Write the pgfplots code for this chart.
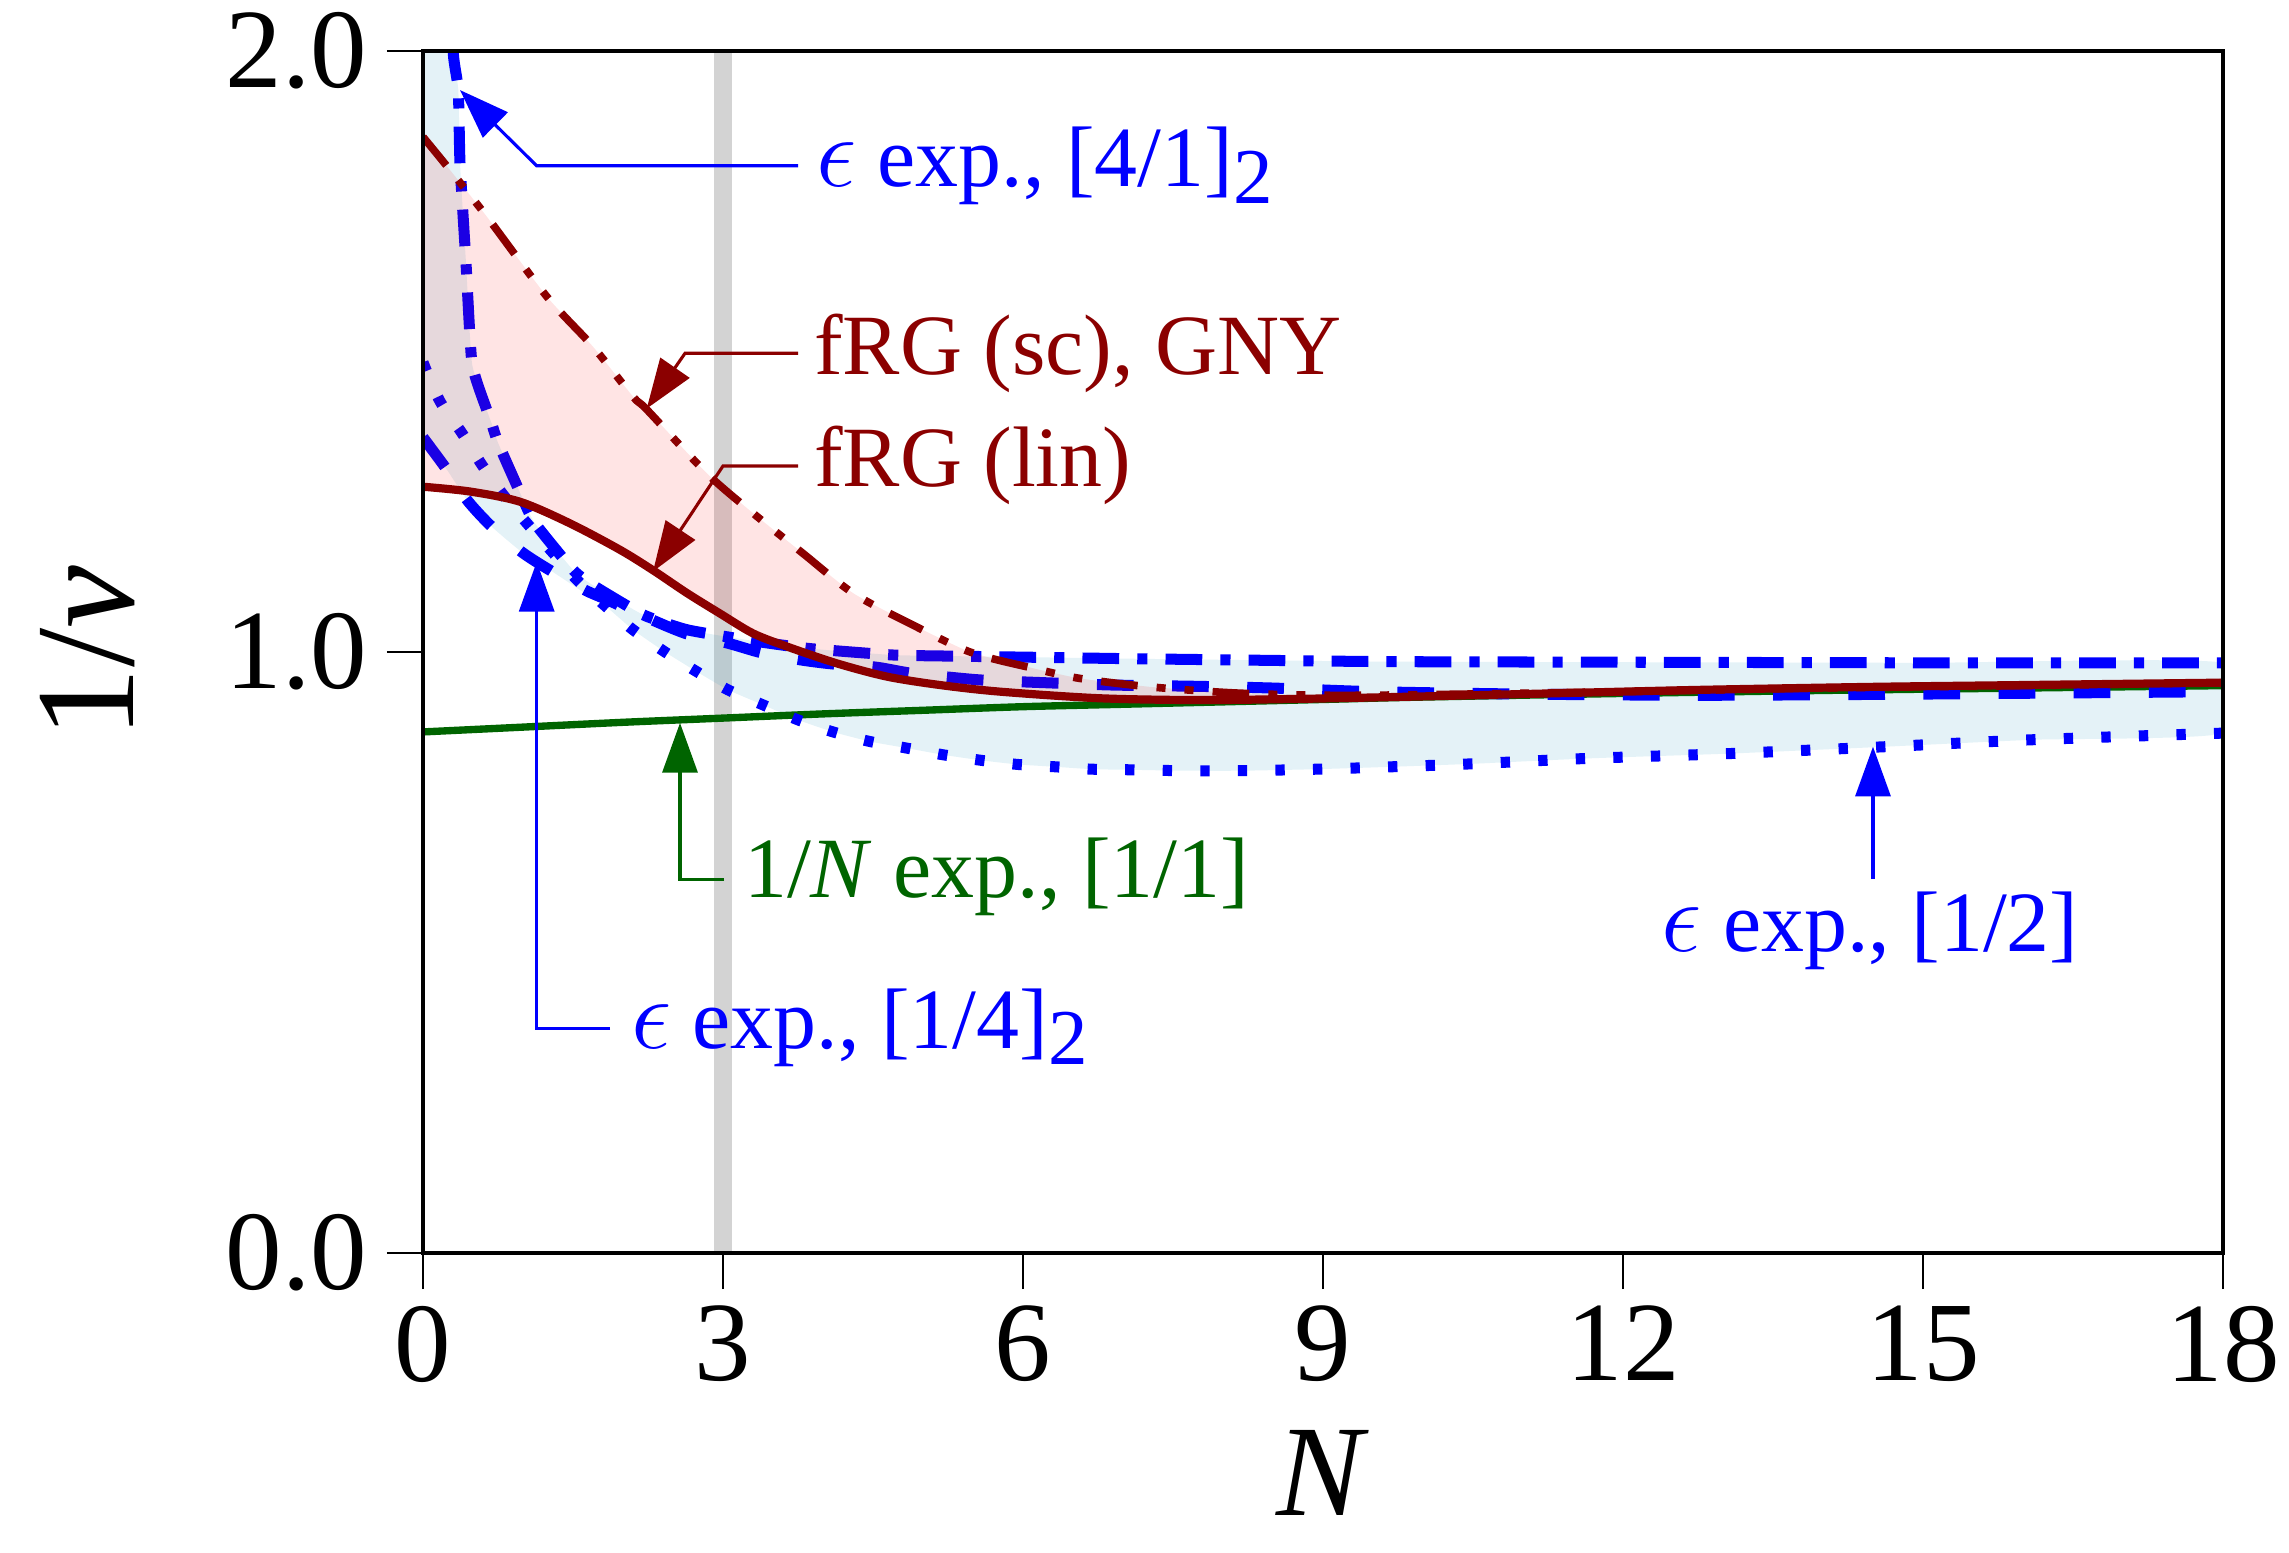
\documentclass[border=0pt]{standalone}
\usepackage{pgfplots}
\pgfplotsset{compat=1.18}
\usepackage{pgfplotstable}
\usepackage{fontspec}
\setmainfont{Liberation Serif}
\usetikzlibrary{arrows.meta}

\definecolor{frgred}{RGB}{139,0,0}
\definecolor{epsblue}{RGB}{0,0,255}
\definecolor{largeN}{RGB}{0,100,0}
\definecolor{bandgray}{RGB}{211,211,211}
\definecolor{epsfill}{RGB}{30,147,188}

\newcommand\annfont{\fontsize{15.2}{18}\selectfont}
\newcommand\sub[1]{\raisebox{-3pt}{\fontsize{14}{14}\selectfont #1}}
\newcommand\eps{\scalebox{1.25}{$\epsilon$}}

% fRG, linear regulator
\pgfplotstableread{
N v
0 1.275
0.47 1.267
0.97 1.250
1.47 1.214
1.97 1.170
2.30 1.136
2.64 1.098
2.97 1.064
3.30 1.031
3.64 1.009
4.14 0.981
4.64 0.959
5.17 0.945
5.77 0.934
6.77 0.923
7.77 0.920
8.77 0.922
9.97 0.926
11.5 0.932
12.77 0.937
14.5 0.942
16 0.945
18 0.949
}\frglin

% fRG, sharp cutoff (GNY)
\pgfplotstableread{
N v
0 1.857
0.27 1.802
0.64 1.724
1.24 1.591
1.70 1.508
2.10 1.425
2.24 1.403
2.84 1.297
3.30 1.231
3.80 1.164
4.30 1.098
4.85 1.049
5.47 1.000
6.10 0.973
6.57 0.956
7.27 0.942
8.1 0.932
9 0.928
10 0.929
12 0.934
14 0.940
16 0.944
18 0.949
}\frgsc

% 1/N expansion, [1/1]
\pgfplotstableread{
N v
0 0.867
1 0.875
2 0.883
3 0.890
4 0.897
5 0.903
6 0.909
7 0.913
8 0.917
9 0.921
10 0.925
12 0.931
14 0.936
16 0.940
18 0.944
}\largeNexp

% epsilon expansion, [4/1]_2
\pgfplotstableread{
N v
0.285 2.15
0.303 1.996
0.353 1.935
0.37 1.813
0.43 1.647
0.49 1.480
0.637 1.403
0.687 1.380
0.753 1.347
1.003 1.253
1.12 1.214
1.503 1.136
1.70 1.111
2.20 1.062
2.64 1.037
3.24 1.020
3.85 1.006
4.70 0.995
5.35 0.993
6.2 0.991
7.0 0.989
8.0 0.987
9.6 0.984
12 0.983
15 0.982
18 0.982
}\epsfourone

% epsilon expansion, [1/4]_2
\pgfplotstableread{
N v
0 1.357
0.24 1.303
0.44 1.253
0.69 1.208
0.99 1.166
1.3 1.133
1.62 1.103
1.84 1.087
2.2 1.060
2.64 1.030
3.04 1.015
3.4 0.998
3.77 0.987
4.1 0.980
4.52 0.975
4.87 0.965
5.27 0.958
5.62 0.953
6.2 0.949
6.9 0.945
7.7 0.943
8.5 0.940
9.5 0.934
11 0.930
12.8 0.928
15 0.930
18 0.934
}\epsonefour

% epsilon expansion, [1/2]
\pgfplotstableread{
N v
0 1.482
0.17 1.417
0.39 1.364
0.59 1.311
0.8 1.262
1.04 1.214
1.3 1.165
1.54 1.120
1.82 1.077
2.10 1.037
2.42 1.000
2.74 0.967
3.05 0.937
3.40 0.912
3.75 0.887
4.10 0.867
4.47 0.851
4.84 0.840
5.20 0.829
5.57 0.820
5.94 0.813
6.32 0.809
6.69 0.805
7.07 0.804
7.6 0.8025
8.2 0.8025
8.94 0.805
9.69 0.809
10.5 0.814
11.66 0.823
13.07 0.831
14.57 0.842
16.1 0.854
18 0.865
}\epsonetwo

\begin{document}
\begin{tikzpicture}
\begin{axis}[
  name=ax,
  scale only axis,
  width=318.58pt, height=212.74pt,
  xmin=0, xmax=18, ymin=0, ymax=2,
  xtick={0,3,6,9,12,15,18},
  xticklabels={0,3,6,9,12,15,18},
  ytick={0,1,2},
  yticklabels={0.0,1.0,2.0},
  xtick pos=bottom, ytick pos=left,
  tick align=outside,
  major tick length=6.4pt,
  minor tick num=0,
  tick style={black, line width=0.4pt},
  axis line style={black, line width=0.65pt},
  tick label style={font=\fontsize{20}{20}\selectfont},
  xticklabel style={inner sep=0pt, anchor=north, yshift=-2.8pt},
  yticklabel style={inner sep=0pt, anchor=east, xshift=-3.3pt},
  xlabel={\textit{N}},
  ylabel={1/\textit{ν}},
  every axis x label/.style={at={(axis description cs:0.5,-0.183)}, anchor=center,
    inner sep=0pt, font=\fontsize{23}{23}\selectfont},
  every axis y label/.style={at={(axis description cs:-0.1861,0.5)}, anchor=center, rotate=90,
    inner sep=0pt, font=\fontsize{25}{25}\selectfont},
  clip mode=individual,
  axis on top,
]

% marks the physical case N = 3
\addplot[bandgray, line width=3.3pt] coordinates {(3,0) (3,2)};

% envelope of the epsilon-expansion approximants
\addplot[draw=none, fill=epsfill, fill opacity=0.12, smooth, tension=0.3] coordinates {
 (0,2.1) (0.29,2.1) (0.303,1.996) (0.353,1.935) (0.37,1.813) (0.43,1.647)
 (0.49,1.48) (0.637,1.403) (0.687,1.38) (0.753,1.347) (1.003,1.253)
 (1.12,1.214) (1.503,1.136) (1.70,1.111) (2.20,1.062) (2.64,1.037)
 (3.24,1.020) (3.85,1.006) (4.70,0.995) (5.35,0.993) (6.2,0.991)
 (7.0,0.989) (8.0,0.987) (9.6,0.984) (12,0.983) (15,0.982) (18,0.982)
 (18,0.865) (16.1,0.854) (14.57,0.842) (13.07,0.831) (11.66,0.823)
 (10.5,0.814) (9.69,0.809) (8.94,0.805) (8.2,0.8025) (7.6,0.8025)
 (7.07,0.804) (6.69,0.805) (6.32,0.809) (5.94,0.813) (5.57,0.820)
 (5.20,0.829) (4.84,0.840) (4.47,0.851) (4.10,0.867) (3.75,0.887)
 (3.40,0.912) (3.05,0.937) (2.74,0.967) (2.42,1.0) (2.10,1.037)
 (1.82,1.077) (1.6,1.10) (1.3,1.133) (0.99,1.166) (0.69,1.208)
 (0.44,1.253) (0.24,1.303) (0,1.357)
} -- cycle;

% 1/N expansion
\addplot[largeN, line width=1.3pt, smooth] table[x=N, y=v] {\largeNexp};

% epsilon expansion
\addplot[epsblue, line width=1.95pt, smooth, dash pattern=on 1.65pt off 5pt] table[x=N, y=v] {\epsonetwo};
\addplot[epsblue, line width=1.95pt, smooth, dash pattern=on 6.5pt off 6.8pt] table[x=N, y=v] {\epsonefour};
\addplot[epsblue, line width=1.95pt, smooth, tension=0.3, dash pattern=on 6.5pt off 3.2pt on 1.8pt off 3.2pt] table[x=N, y=v] {\epsfourone};

% band between the two fRG results
\addplot[draw=none, fill=red, fill opacity=0.105, smooth, tension=0.3] coordinates {
 (0,1.857) (0.27,1.802) (0.64,1.724) (1.24,1.591) (1.70,1.508) (2.10,1.425)
 (2.24,1.403) (2.84,1.297) (3.30,1.231) (3.80,1.164) (4.30,1.098)
 (4.85,1.049) (5.47,1.000) (6.10,0.973) (6.57,0.956) (7.27,0.942)
 (8.1,0.932) (9,0.928) (10,0.929) (12,0.934) (14,0.940) (16,0.944) (18,0.949)
 (18,0.949) (16,0.945) (14.5,0.942) (12.77,0.937) (11.5,0.932) (9.97,0.926)
 (8.77,0.922) (7.77,0.920) (6.77,0.923) (5.77,0.934) (5.17,0.945)
 (4.64,0.959) (4.14,0.981) (3.64,1.009) (3.30,1.031) (2.97,1.064)
 (2.64,1.098) (2.30,1.136) (1.97,1.170) (1.47,1.214) (0.97,1.250)
 (0.47,1.267) (0,1.275)
} -- cycle;

% fRG
\addplot[frgred, line width=1.35pt, smooth, dash pattern=on 6.5pt off 3.37pt on 1.6pt off 3.37pt on 1.6pt off 3.37pt] table[x=N, y=v] {\frgsc};
\addplot[frgred, line width=1.45pt, smooth] table[x=N, y=v] {\frglin};

% annotations
\tikzset{lead/.style={line width=0.55pt, -{Triangle[length=8.8pt,width=6.2pt]}},
         ann/.style={inner sep=0pt, font=\annfont}}

\draw[lead, epsblue] (axis cs:3.75,1.809) -- (axis cs:1.137,1.809) -- (axis cs:0.37,1.935);
\node[ann, epsblue, anchor=base west] at (axis cs:3.92,1.774) {\eps\ exp., [4/1]\sub{2}};

\draw[lead, frgred] (axis cs:3.75,1.497) -- (axis cs:2.62,1.497) -- (axis cs:2.237,1.405);
\node[ann, frgred, anchor=base west] at (axis cs:3.90,1.461) {fRG (sc), GNY};

\draw[lead, frgred] (axis cs:3.75,1.3095) -- (axis cs:3.0,1.3095) -- (axis cs:2.30,1.134);
\node[ann, frgred, anchor=base west] at (axis cs:3.90,1.275) {fRG (lin)};

\draw[lead, epsblue] (axis cs:1.87,0.373) -- (axis cs:1.137,0.373) -- (axis cs:1.137,1.150);
\node[ann, epsblue, anchor=base west] at (axis cs:2.07,0.341) {\eps\ exp., [1/4]\sub{2}};

\draw[lead, largeN] (axis cs:3.01,0.622) -- (axis cs:2.57,0.622) -- (axis cs:2.57,0.882);
\node[ann, largeN, anchor=base west] at (axis cs:3.2,0.591) {1/\textit{N} exp., [1/1]};

\draw[lead, epsblue] (axis cs:14.5,0.622) -- (axis cs:14.5,0.8425);
\node[ann, epsblue, anchor=base] at (axis cs:14.47,0.501) {\eps\ exp., [1/2]};

\end{axis}
\pgfresetboundingbox
\path[use as bounding box] ([shift={(-74.87pt,-53.1pt)}]ax.south west) rectangle ([shift={(11.68pt,9.03pt)}]ax.north east);
\end{tikzpicture}
\end{document}
